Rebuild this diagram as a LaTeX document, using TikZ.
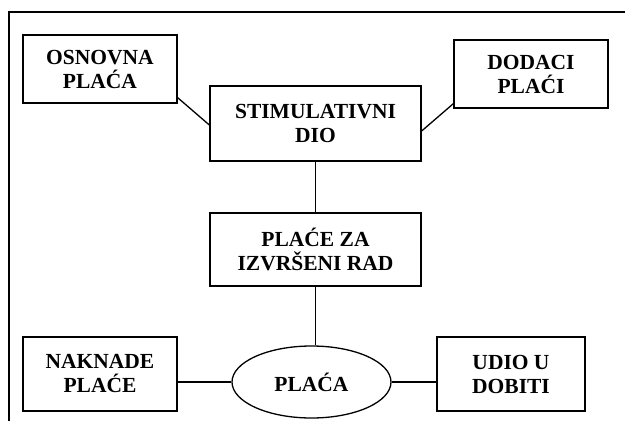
\documentclass[tikz,border=0pt]{standalone}
\usepackage{fontspec}
\setmainfont{Liberation Serif}
\usetikzlibrary{shapes.geometric}
\tikzset{
  lbl/.style={font=\bfseries\fontsize{21.5}{24}\selectfont, align=center, inner sep=0pt},
  box/.style={lbl, draw, line width=1.3pt, rectangle},
  oval/.style={lbl, draw, line width=1.3pt, ellipse},
  conn/.style={line width=1.3pt}
}
\begin{document}
\begin{tikzpicture}[x=1pt,y=-1pt]
\useasboundingbox (0,0) rectangle (625,421);
\draw[line width=2pt] (9,421) -- (9,12) -- (625,12);
\node[box, minimum width=154pt, minimum height=68pt] (osn) at (100,69) {OSNOVNA\\PLAĆA};
\node[box, minimum width=154pt, minimum height=68pt] (dod) at (531,74) {DODACI\\PLAĆI};
\node[box, minimum width=211pt, minimum height=75pt] (stim) at (315.5,123.5) {STIMULATIVNI\\DIO};
\node[box, minimum width=211pt, minimum height=73pt] (pl) at (315.5,249.5) {PLAĆE ZA\\IZVRŠENI RAD};
\node[box, minimum width=154pt, minimum height=74pt] (nak) at (100,374) {NAKNADE\\PLAĆE};
\node[box, minimum width=148pt, minimum height=74pt] (udio) at (511,374) {UDIO U\\DOBITI};
\node[oval, minimum width=159pt, minimum height=72pt] (placa) at (311.5,382) {PLAĆA};
\draw[conn] ([yshift=6pt]osn.south east) -- ([yshift=-1.5pt]stim.west);
\draw[conn] ([yshift=5pt]dod.south west) -- ([yshift=-7.5pt]stim.east);
\draw[conn] (stim.south) -- (pl.north);
\draw[conn] (pl.south) -- (pl.south |- placa.north);
\draw[conn] (placa.west) -- (placa.west -| nak.east);
\draw[conn] (placa.east) -- (placa.east -| udio.west);
\end{tikzpicture}
\end{document}
